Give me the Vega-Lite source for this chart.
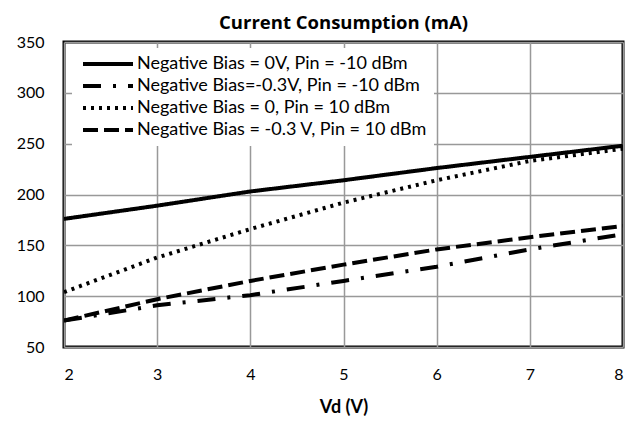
{
  "$schema": "https://vega.github.io/schema/vega-lite/v6.json",
  "width": 638,
  "height": 421,
  "autosize": {"type": "fit", "contains": "padding"},
  "padding": {"left": 16, "top": 13, "right": 15, "bottom": 5},
  "background": "white",
  "config": {
    "font": "Lato",
    "view": {"stroke": "black", "strokeWidth": 3},
    "axis": {"labelFont": "Lato", "labelFontSize": 16, "labelColor": "#000", "titleFont": "Lato", "titleFontSize": 18, "titleFontWeight": "bold", "titleColor": "#000", "gridColor": "#999", "gridWidth": 1.5, "ticks": false, "domain": false}
  },
  "title": {"text": "Current Consumption (mA)", "font": "Open Sans", "fontSize": 18.5, "fontWeight": "bold", "color": "#000", "offset": 2},
  "data": {
    "values": [
      {"vd": 2, "ma": 176, "s": "Negative Bias = 0V, Pin = -10 dBm"},
      {"vd": 3, "ma": 189, "s": "Negative Bias = 0V, Pin = -10 dBm"},
      {"vd": 4, "ma": 203, "s": "Negative Bias = 0V, Pin = -10 dBm"},
      {"vd": 5, "ma": 214, "s": "Negative Bias = 0V, Pin = -10 dBm"},
      {"vd": 6, "ma": 226, "s": "Negative Bias = 0V, Pin = -10 dBm"},
      {"vd": 7, "ma": 237, "s": "Negative Bias = 0V, Pin = -10 dBm"},
      {"vd": 8, "ma": 248, "s": "Negative Bias = 0V, Pin = -10 dBm"},
      {"vd": 2, "ma": 76, "s": "Negative Bias=-0.3V, Pin = -10 dBm"},
      {"vd": 3, "ma": 91, "s": "Negative Bias=-0.3V, Pin = -10 dBm"},
      {"vd": 4, "ma": 101, "s": "Negative Bias=-0.3V, Pin = -10 dBm"},
      {"vd": 5, "ma": 115, "s": "Negative Bias=-0.3V, Pin = -10 dBm"},
      {"vd": 6, "ma": 129, "s": "Negative Bias=-0.3V, Pin = -10 dBm"},
      {"vd": 7, "ma": 146, "s": "Negative Bias=-0.3V, Pin = -10 dBm"},
      {"vd": 8, "ma": 161, "s": "Negative Bias=-0.3V, Pin = -10 dBm"},
      {"vd": 2, "ma": 104, "s": "Negative Bias = 0, Pin = 10 dBm"},
      {"vd": 3, "ma": 138, "s": "Negative Bias = 0, Pin = 10 dBm"},
      {"vd": 4, "ma": 166, "s": "Negative Bias = 0, Pin = 10 dBm"},
      {"vd": 5, "ma": 192, "s": "Negative Bias = 0, Pin = 10 dBm"},
      {"vd": 6, "ma": 214, "s": "Negative Bias = 0, Pin = 10 dBm"},
      {"vd": 7, "ma": 233, "s": "Negative Bias = 0, Pin = 10 dBm"},
      {"vd": 8, "ma": 245, "s": "Negative Bias = 0, Pin = 10 dBm"},
      {"vd": 2, "ma": 76, "s": "Negative Bias = -0.3 V, Pin = 10 dBm"},
      {"vd": 3, "ma": 97, "s": "Negative Bias = -0.3 V, Pin = 10 dBm"},
      {"vd": 4, "ma": 115, "s": "Negative Bias = -0.3 V, Pin = 10 dBm"},
      {"vd": 5, "ma": 131, "s": "Negative Bias = -0.3 V, Pin = 10 dBm"},
      {"vd": 6, "ma": 146, "s": "Negative Bias = -0.3 V, Pin = 10 dBm"},
      {"vd": 7, "ma": 158, "s": "Negative Bias = -0.3 V, Pin = 10 dBm"},
      {"vd": 8, "ma": 169, "s": "Negative Bias = -0.3 V, Pin = 10 dBm"}
    ]
  },
  "mark": {"type": "line", "color": "black", "strokeWidth": 4, "clip": true},
  "encoding": {
    "x": {"field": "vd", "type": "quantitative", "title": "Vd (V)", "scale": {"domain": [2, 8], "nice": false},
      "axis": {"values": [2, 3, 4, 5, 6, 7, 8], "labelPadding": 19, "titlePadding": 16}},
    "y": {"field": "ma", "type": "quantitative", "title": null, "scale": {"domain": [50, 350], "nice": false},
      "axis": {"values": [50, 100, 150, 200, 250, 300, 350], "labelPadding": 20}},
    "strokeDash": {"field": "s", "type": "nominal", "title": null,
      "scale": {"domain": ["Negative Bias = 0V, Pin = -10 dBm", "Negative Bias=-0.3V, Pin = -10 dBm", "Negative Bias = 0, Pin = 10 dBm", "Negative Bias = -0.3 V, Pin = 10 dBm"],
        "range": [[1, 0], [18, 12, 3, 12], [3, 5], [15, 6]]},
      "legend": {"orient": "none", "legendX": 8, "legendY": 6, "zindex": 1, "fillColor": "white", "padding": 7, "labelFont": "Lato", "labelFontSize": 18, "labelColor": "#000", "symbolType": "M-1,0H9", "symbolSize": 100, "symbolStrokeWidth": 4, "symbolStrokeColor": "black", "labelLimit": 400, "rowPadding": 4, "labelOffset": 40}}
  }
}
